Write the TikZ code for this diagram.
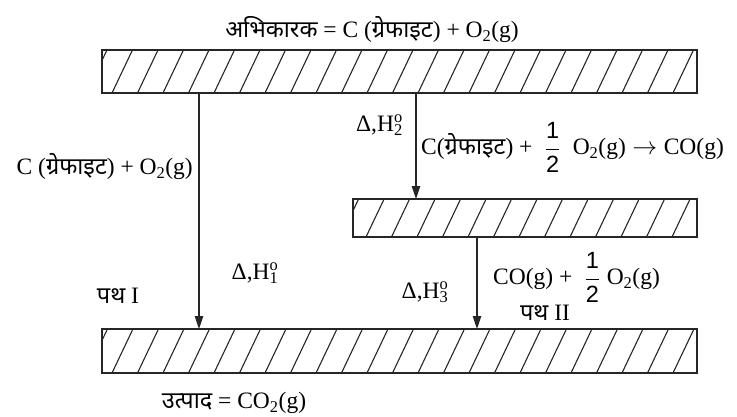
\documentclass[tikz,border=0pt]{standalone}
\usepackage{fontspec}
\setmainfont{Liberation Serif}
\setsansfont{Liberation Sans}
\newfontfamily\dev[Script=Devanagari]{Noto Sans}
\usetikzlibrary{arrows.meta,calc}
\newcommand{\myDH}[1]{Δ,H\makebox[0pt][l]{\textsuperscript{o}}\textsubscript{#1}}
\newcommand{\myhalf}{\ensuremath{\displaystyle\frac{\mbox{\sffamily 1}}{\mbox{\sffamily 2}}}}
\newcommand{\gr}{{\dev ग्रेफाइट}}
\newcommand{\hatchbar}[2]{%
  \begin{scope}
    \clip (#1.south west) rectangle (#1.north east);
    \foreach \i in {-2,...,26}
      \draw[hatch] ($(#1.south west)+(\i*25.5+#2-10,21)$) -- ++(40,-84);
  \end{scope}
  \draw[barline] (#1.south west) rectangle (#1.north east);}
\begin{document}
\begin{tikzpicture}[x=1pt,y=-1pt,
  barnode/.style={inner sep=0pt, outer sep=0pt, anchor=north west},
  hatch/.style={line width=1.1pt, black!85},
  barline/.style={line width=2pt, black!85},
  arr/.style={line width=1.2pt, black!85, -{Triangle[length=13pt,width=8.5pt]}},
  lbl/.style={inner sep=0pt, font=\fontsize{23.5}{27}\selectfont}]
\useasboundingbox (0,0) rectangle (737,416);

\node[barnode, minimum width=595pt, minimum height=43pt] (topbar) at (102,50) {};
\node[barnode, minimum width=344pt, minimum height=38pt] (midbar) at (353,199) {};
\node[barnode, minimum width=595pt, minimum height=44pt] (botbar) at (102,329) {};
\hatchbar{topbar}{10}
\hatchbar{midbar}{13}
\hatchbar{botbar}{10}

\coordinate (xa) at (199,0);
\coordinate (xb) at (416,0);
\coordinate (xc) at (477,0);
\draw[arr] (topbar.south -| xa) -- (botbar.north -| xa);
\draw[arr] (topbar.south -| xb) -- (midbar.north -| xb);
\draw[arr] (midbar.south -| xc) -- (botbar.north -| xc);

\node[lbl] (reac) at (372,30) {{\dev अभिकारक} = C (\gr) + O\textsubscript{2}(g)};
\node[lbl, anchor=east] (l1) at (193,167) {C (\gr) + O\textsubscript{2}(g)};
\node[lbl, anchor=east] (dh2) at (403,125) {\myDH{2}};
\node[lbl, anchor=west] (eq2) at (421,147) {C(\gr) + \;\myhalf\;\ O\textsubscript{2}(g)\;\ensuremath{\rightarrow}\;CO(g)};
\node[lbl] (dh1) at (255,273) {\myDH{1}};
\node[lbl] (p1) at (118,296) {{\dev पथ} I};
\node[lbl] (dh3) at (425,292) {\myDH{3}};
\node[lbl, anchor=west] (eq3) at (493,277) {CO(g) + \;\myhalf\;O\textsubscript{2}(g)};
\node[lbl] (p2) at (545,313) {{\dev पथ} II};
\node[lbl] (prod) at (234,403) {{\dev उत्पाद} = CO\textsubscript{2}(g)};
\end{tikzpicture}
\end{document}
